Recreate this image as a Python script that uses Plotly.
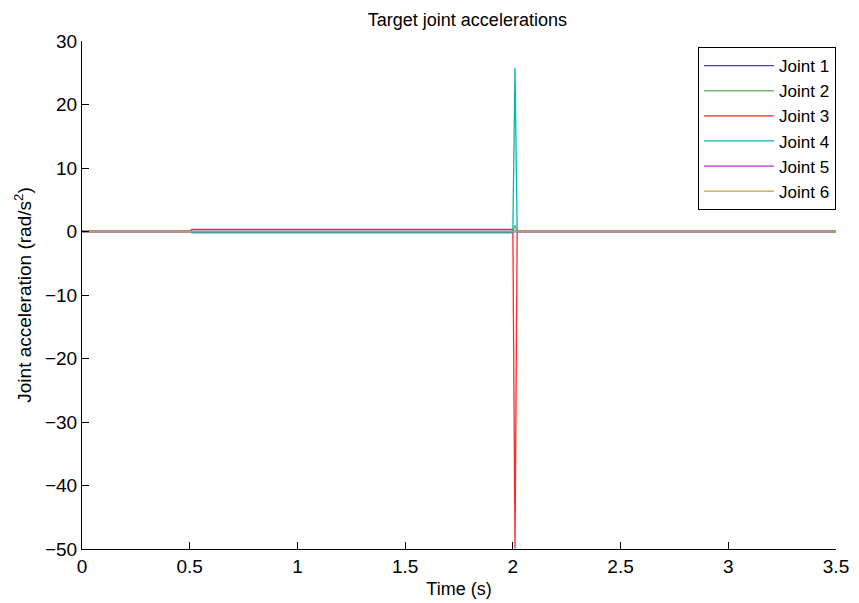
import plotly.graph_objects as go

time_s = [0.0, 0.50, 0.51, 2.00, 2.01, 2.02, 3.50]
joint_names = ["Joint 1", "Joint 2", "Joint 3", "Joint 4", "Joint 5", "Joint 6"]
joint1 = [0, 0, 0.0, 0.0, 0.0, 0, 0]
joint2 = [0, 0, -0.15, -0.15, 1.0, 0, 0]
joint3 = [0, 0, 0.35, 0.35, -49.9, 0, 0]
joint4 = [0, 0, -0.2, -0.2, 25.8, 0, 0]
joint5 = [0, 0, 0.0, 0.0, 0.0, 0, 0]
joint6 = [0, 0, 0.0, 0.0, 0.0, 0, 0]
x_ticks = [0, 0.5, 1, 1.5, 2, 2.5, 3, 3.5]
y_ticks = [-50, -40, -30, -20, -10, 0, 10, 20, 30]

series = [joint1, joint2, joint3, joint4, joint5, joint6]
colors = ["rgb(60,60,230)", "rgb(110,185,110)", "rgb(255,40,40)", "rgb(0,185,185)",
          "rgb(200,40,200)", "rgb(190,165,50)"]

fig = go.Figure()
for name, ys, c in zip(joint_names, series, colors):
    fig.add_trace(go.Scatter(x=time_s, y=ys, mode="lines", name=name,
                             line=dict(color=c, width=1.3)))

font = "Liberation Sans, Arial, Helvetica, sans-serif"
# page body has an 8px margin, so the figure is drawn 8px in from the top-left
fig.update_layout(
    width=851, height=595,
    paper_bgcolor="white", plot_bgcolor="white",
    margin=dict(l=74, r=23, t=33, b=54),
    font=dict(family=font, size=18, color="black"),
    title=dict(text="Target joint accelerations", x=0.5398, xanchor="center",
               y=0.981, yanchor="middle", font=dict(size=18)),
    showlegend=True,
    legend=dict(x=1, xanchor="right", y=0.988, yanchor="top",
                bordercolor="black", borderwidth=1, bgcolor="white",
                font=dict(size=17), tracegroupgap=0, itemwidth=70),
    xaxis=dict(range=[0, 3.5], tickvals=x_ticks, ticktext=[str(v) for v in x_ticks],
               ticks="inside", ticklen=7, tickcolor="black",
               showline=True, linecolor="black", linewidth=1, mirror=False,
               showgrid=False, zeroline=False, automargin=False,
               title=dict(text="Time (s)", standoff=6, font=dict(size=18)),
               tickfont=dict(size=19)),
    yaxis=dict(range=[-50, 30], tickvals=y_ticks,
               ticktext=[("\u2212" + str(-v)) if v < 0 else str(v) for v in y_ticks],
               ticks="inside", ticklen=7, tickcolor="black",
               showline=True, linecolor="black", linewidth=1, mirror=False,
               showgrid=False, zeroline=False, automargin=False,
               title=dict(text="Joint acceleration (rad/s<sup>2</sup>)", standoff=8,
                          font=dict(size=19)),
               tickfont=dict(size=19)),
)

fig.write_html("out.html")
